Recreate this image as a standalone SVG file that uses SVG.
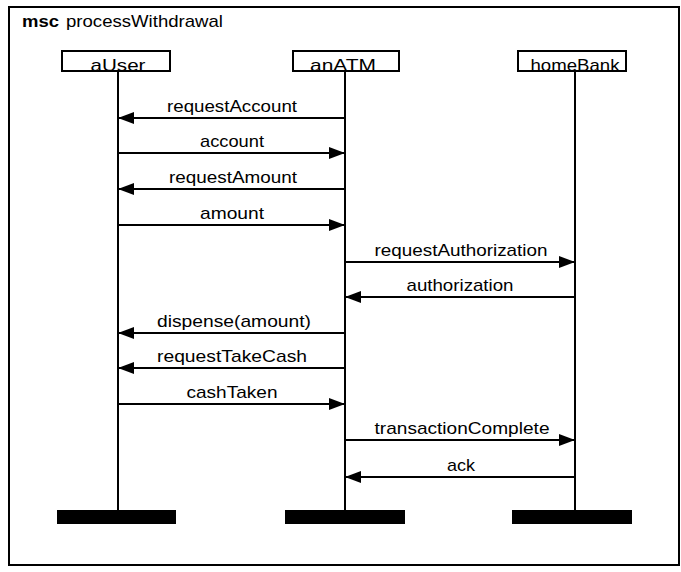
<svg xmlns="http://www.w3.org/2000/svg" width="681" height="572" viewBox="0 0 681 572">
<defs>
<style>
text{font-family:"Liberation Sans",Arial,sans-serif;font-size:17px;fill:#000}
.lbl{text-anchor:middle}
.box{fill:#fff;stroke:#000;stroke-width:2}
.life{stroke:#000;stroke-width:2}
.bar{fill:#000}
.msg{stroke:#000;stroke-width:2;fill:none;marker-end:url(#ah)}
</style>
<marker id="ah" markerUnits="userSpaceOnUse" markerWidth="16" markerHeight="12" refX="16" refY="6" orient="auto">
<path d="M0,0 L16,6 L0,12 z" fill="#000"/>
</marker>
</defs>
<rect width="681" height="572" fill="#fff"/>
<rect x="9" y="7" width="670" height="558" fill="none" stroke="#000" stroke-width="2"/>
<text x="22" y="27" font-weight="bold" textLength="37" lengthAdjust="spacingAndGlyphs">msc</text>
<text x="66" y="27" textLength="157" lengthAdjust="spacingAndGlyphs">processWithdrawal</text>

<g id="aUser">
<line class="life" x1="118" y1="71" x2="118" y2="511"/>
<rect class="box" x="62" y="51" width="108" height="20"/>
<text class="lbl" x="118" y="71" textLength="55" lengthAdjust="spacingAndGlyphs">aUser</text>
<rect class="bar" x="57" y="510" width="119" height="14"/>
</g>
<g id="anATM">
<line class="life" x1="345" y1="71" x2="345" y2="511"/>
<rect class="box" x="293" y="51" width="106" height="20"/>
<text class="lbl" x="343" y="71" textLength="66" lengthAdjust="spacingAndGlyphs">anATM</text>
<rect class="bar" x="285" y="510" width="120" height="14"/>
</g>
<g id="homeBank">
<line class="life" x1="575" y1="71" x2="575" y2="511"/>
<rect class="box" x="518" y="51" width="108" height="20"/>
<text class="lbl" x="575" y="71" textLength="89" lengthAdjust="spacingAndGlyphs">homeBank</text>
<rect class="bar" x="512" y="510" width="120" height="14"/>
</g>

<g id="connectors">
<line class="msg" x1="345" y1="118" x2="118" y2="118"/>
<text class="lbl" x="232" y="112" textLength="130" lengthAdjust="spacingAndGlyphs">requestAccount</text>
<line class="msg" x1="118" y1="153" x2="345" y2="153"/>
<text class="lbl" x="232" y="147" textLength="64" lengthAdjust="spacingAndGlyphs">account</text>
<line class="msg" x1="345" y1="189" x2="118" y2="189"/>
<text class="lbl" x="233" y="183" textLength="128" lengthAdjust="spacingAndGlyphs">requestAmount</text>
<line class="msg" x1="118" y1="225" x2="345" y2="225"/>
<text class="lbl" x="232" y="219" textLength="64" lengthAdjust="spacingAndGlyphs">amount</text>
<line class="msg" x1="345" y1="262" x2="575" y2="262"/>
<text class="lbl" x="461" y="256" textLength="173" lengthAdjust="spacingAndGlyphs">requestAuthorization</text>
<line class="msg" x1="575" y1="297" x2="345" y2="297"/>
<text class="lbl" x="460" y="291" textLength="107" lengthAdjust="spacingAndGlyphs">authorization</text>
<line class="msg" x1="345" y1="333" x2="118" y2="333"/>
<text class="lbl" x="234" y="327" textLength="154" lengthAdjust="spacingAndGlyphs">dispense(amount)</text>
<line class="msg" x1="345" y1="368" x2="118" y2="368"/>
<text class="lbl" x="232" y="362" textLength="150" lengthAdjust="spacingAndGlyphs">requestTakeCash</text>
<line class="msg" x1="118" y1="404" x2="345" y2="404"/>
<text class="lbl" x="232" y="398" textLength="91" lengthAdjust="spacingAndGlyphs">cashTaken</text>
<line class="msg" x1="345" y1="440" x2="575" y2="440"/>
<text class="lbl" x="462" y="434" textLength="175" lengthAdjust="spacingAndGlyphs">transactionComplete</text>
<line class="msg" x1="575" y1="477" x2="345" y2="477"/>
<text class="lbl" x="461" y="471" textLength="28" lengthAdjust="spacingAndGlyphs">ack</text>
</g>
</svg>
